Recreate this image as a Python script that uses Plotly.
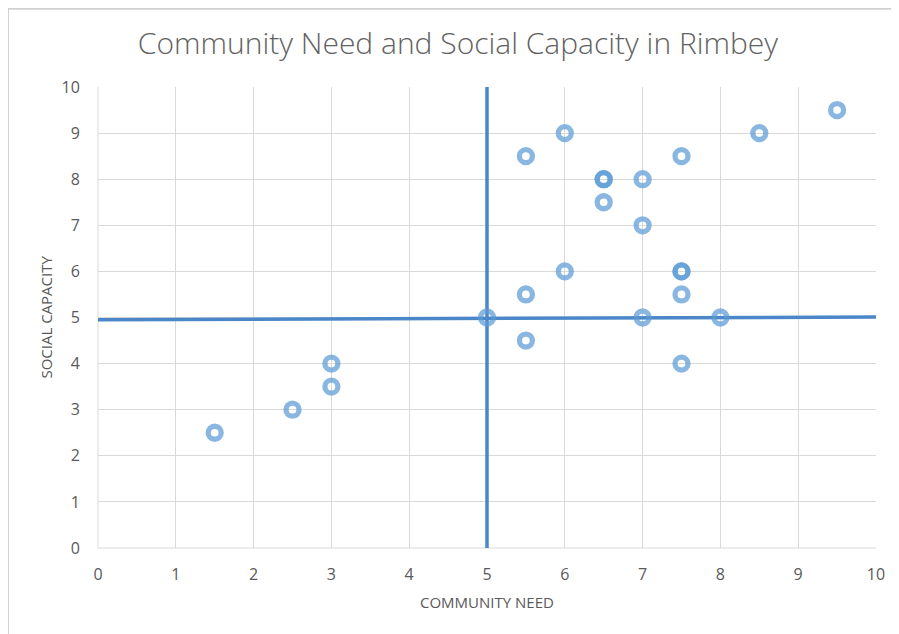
import plotly.graph_objects as go

# Data points (community need, social capacity)
need = [1.5, 2.5, 3, 3, 5, 5.5, 5.5, 5.5, 6, 6, 6.5, 6.5, 6.5, 7, 7, 7, 7.5, 7.5, 7.5, 7.5, 7.5, 8, 8.5, 9.5]
capacity = [2.5, 3, 3.5, 4, 5, 4.5, 5.5, 8.5, 6, 9, 7.5, 8, 8, 8, 7, 5, 8.5, 6, 6, 5.5, 4, 5, 9, 9.5]

# Quadrant divider lines
vline_x = [5, 5]
vline_y = [0, 10]
hline_x = [0, 10]
hline_y = [4.95, 5.01]

ticks = list(range(0, 11))

fig = go.Figure()
fig.add_trace(go.Scatter(x=vline_x, y=vline_y, mode="lines",
                         line=dict(color="#4a86c8", width=3.5), hoverinfo="skip"))
fig.add_trace(go.Scatter(x=hline_x, y=hline_y, mode="lines",
                         line=dict(color="#4a86c8", width=3.5), hoverinfo="skip"))
fig.add_trace(go.Scatter(x=need, y=capacity, mode="markers",
                         marker=dict(symbol="circle-open", size=13,
                                     color="rgba(91,155,213,0.72)",
                                     line=dict(width=5.3, color="rgba(91,155,213,0.72)"))))

font_fam = "Open Sans, Noto Sans, sans-serif"
grey = "#595959"
fig.update_layout(
    width=891, height=626,
    margin=dict(l=90, r=23, t=79, b=86),
    paper_bgcolor="white", plot_bgcolor="white",
    showlegend=False,
    title=dict(text="Community Need and Social Capacity in Rimbey",
               x=0.505, xanchor="center", y=0.9425, yanchor="middle",
               font=dict(family=font_fam, size=30, color="#626262", weight=300)),
    xaxis=dict(range=[0, 10], tickvals=ticks, showgrid=True, gridcolor="#d9d9d9", gridwidth=1,
               zeroline=False, showline=False, ticks="outside", ticklen=12,
               tickcolor="rgba(0,0,0,0)",
               tickfont=dict(family=font_fam, size=16, color=grey)),
    yaxis=dict(range=[0, 10], tickvals=ticks, showgrid=True, gridcolor="#d9d9d9", gridwidth=1,
               zeroline=False, showline=False, ticks="outside", ticklen=14,
               tickcolor="rgba(0,0,0,0)",
               tickfont=dict(family=font_fam, size=16, color=grey)),
    annotations=[
        dict(text="COMMUNITY NEED", xref="paper", yref="paper", x=0.5, y=-0.117,
             xanchor="center", yanchor="middle", showarrow=False,
             font=dict(family=font_fam, size=15, color=grey)),
        dict(text="SOCIAL CAPACITY", xref="paper", yref="paper", x=-0.068, y=0.5,
             xanchor="center", yanchor="middle", textangle=-90, showarrow=False,
             font=dict(family=font_fam, size=15, color=grey)),
    ],
    shapes=[
        dict(type="line", xref="paper", yref="paper", x0=0, x1=0, y0=0, y1=1,
             line=dict(color="#d9d9d9", width=1), layer="below"),
        dict(type="line", xref="paper", yref="paper", x0=0, x1=1, y0=0, y1=0,
             line=dict(color="#d9d9d9", width=1), layer="below"),
        dict(type="line", xref="paper", yref="paper", x0=-0.1157, x1=-0.1157, y0=-0.2, y1=1.17,
             line=dict(color="#d0d0d0", width=2)),
        dict(type="line", xref="paper", yref="paper", x0=-0.1157, x1=1.1, y0=1.17, y1=1.17,
             line=dict(color="#d0d0d0", width=2)),
    ],
)

fig.write_html("out.html")
